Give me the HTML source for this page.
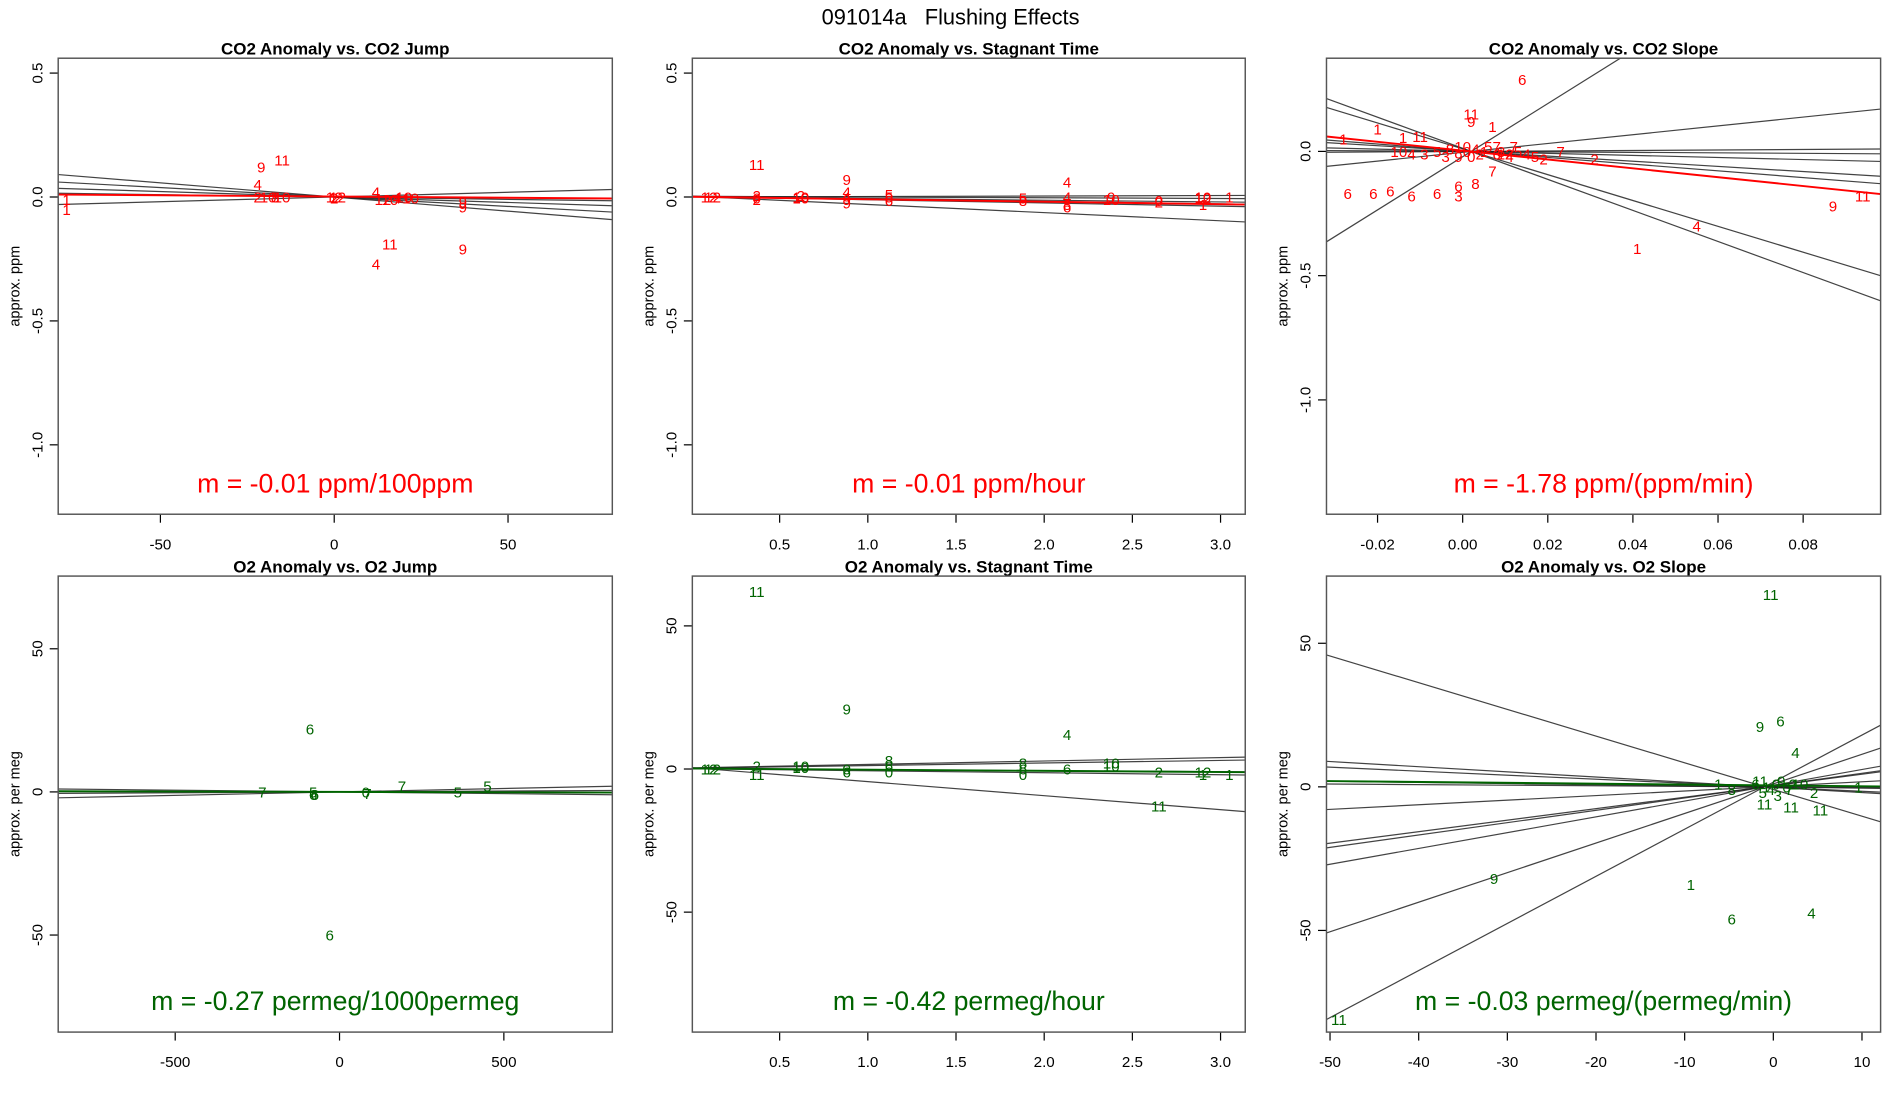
<!DOCTYPE html>
<html><head><meta charset="utf-8"><title>091014a Flushing Effects</title>
<style>
html,body{margin:0;padding:0;background:#fff;}
svg{display:block;font-family:"Liberation Sans",Arial,sans-serif;}
</style></head>
<body>
<svg id="fig" width="1900" height="1100" viewBox="0 0 1567 907" preserveAspectRatio="none" xmlns="http://www.w3.org/2000/svg">
<text x="784" y="20" text-anchor="middle" font-size="18" fill="#000" xml:space="preserve">091014a   Flushing Effects</text>
</svg>
<script>
// ---------- Panel 1: CO2 Anomaly vs CO2 Jump ----------
const p1X = [-77,-77,-21,-15,-22,-22,-19,-17,-15,0,0,1,12,14,16,18,20,22,37,37,16,12,37];
const p1Y = [-0.01,-0.05,0.12,0.15,0.05,0.0,0.0,0.0,0.0,0.0,-0.005,0.0,0.02,-0.01,-0.01,-0.005,0.0,-0.005,-0.02,-0.04,-0.19,-0.27,-0.21];
const p1L = ["1","1","9","11","4","2","10","8","10","12","2","12","4","12","10","4","10","10","9","9","11","4","9"];
const p1LineA = [0,0,0,0,0];
const p1LineB = [-0.00114,-0.00076,-0.00044,-0.00019,0.00038];
const p1FitA = 0.002;
const p1FitB = -0.0001;
const p1XTicks = [-50,0,50];
const p1XTickLabels = ["-50","0","50"];
const p1YTicks = [0.5,0,-0.5,-1.0];
const p1YTickLabels = ["0.5","0.0","-0.5","-1.0"];

// ---------- Panel 2: CO2 Anomaly vs Stagnant Time ----------
const p2X = [0.1,0.12,0.37,0.37,0.37,0.62,0.62,0.62,0.88,0.88,0.88,0.88,1.12,1.12,1.12,1.88,1.88,2.13,2.13,2.13,2.38,2.38,2.65,2.65,2.9,2.9,2.9,0.37,0.88,2.13,3.05];
const p2Y = [0,0,0.005,-0.005,-0.01,0.005,0,-0.005,0.02,0.0,-0.01,-0.025,0.01,0.0,-0.015,-0.005,-0.015,0.0,-0.03,-0.04,0.0,-0.01,-0.015,-0.02,0.0,-0.005,-0.03,0.13,0.07,0.06,0.0];
const p2L = ["12","12","2","0","2","2","10","10","4","4","9","9","5","5","6","5","8","4","8","6","9","10","0","2","10","12","1","11","9","4","1"];
const p2LineA = [0.0,0.003,0.001,0.002,0.002,0.003];
const p2LineB = [0.002,-0.003,-0.007,-0.01,-0.013,-0.033];
const p2FitA = 0.001;
const p2FitB = -0.01;
const p2XTicks = [0.5,1.0,1.5,2.0,2.5,3.0];
const p2XTickLabels = ["0.5","1.0","1.5","2.0","2.5","3.0"];
const p2YTicks = [0.5,0,-0.5,-1.0];
const p2YTickLabels = ["0.5","0.0","-0.5","-1.0"];

// ---------- Panel 3: CO2 Anomaly vs CO2 Slope ----------
const p3X = [0.014,0.002,0.002,0.007,-0.02,-0.014,-0.028,-0.01,-0.015,-0.012,-0.009,-0.006,-0.003,-0.001,0.001,0.003,0.004,0.005,0.006,0.008,0.009,0.011,0.013,0.008,0.012,0.023,0.031,0.019,0.017,0.015,0.007,0.003,-0.001,-0.001,-0.027,-0.021,-0.017,-0.012,-0.006,0.055,0.041,0.087,0.094,0.0,0.002,-0.004,0.01];
const p3Y = [0.29,0.15,0.12,0.10,0.09,0.055,0.05,0.06,0.0,-0.01,-0.01,0.0,0.01,-0.02,0.0,0.01,-0.01,0.0,0.02,-0.01,0.0,-0.02,0.0,0.02,0.02,0.0,-0.03,-0.03,-0.02,-0.01,-0.08,-0.13,-0.14,-0.18,-0.17,-0.17,-0.16,-0.18,-0.17,-0.30,-0.39,-0.22,-0.18,0.02,-0.02,-0.02,-0.01];
const p3L = ["6","11","9","1","1","1","1","11","10","4","3","5","8","9","0","4","2","1","5","6","8","4","5","7","7","7","2","2","5","4","7","8","6","3","6","6","6","6","6","4","1","9","11","10","0","3","12"];
const p3LineA = [-0.0214,-0.0035,-0.0002,0.0002,0.0008,0.0021,0.0027,0.0104,0.0125];
const p3LineB = [10.7,1.77,0.1,-0.1,-0.42,-1.04,-1.35,-5.2,-6.25];
const p3FitA = 0.003;
const p3FitB = -1.78;
const p3XTicks = [-0.02,0,0.02,0.04,0.06,0.08];
const p3XTickLabels = ["-0.02","0.00","0.02","0.04","0.06","0.08"];
const p3YTicks = [0,-0.5,-1.0];
const p3YTickLabels = ["0.0","-0.5","-1.0"];

// ---------- Panel 4: O2 Anomaly vs O2 Jump ----------
const p4X = [-235,-80,-80,80,190,360,450,-90,-30,-75,85];
const p4Y = [0,-1,0,0,2,0,2,22,-50,-1,-0.5];
const p4L = ["7","6","5","0","7","5","5","6","6","6","7"];
const p4LineA = [0,0,0];
const p4LineB = [-0.0012,0.0024,0.0006];
const p4FitA = 0;
const p4FitB = -0.00027;
const p4XTicks = [-500,0,500];
const p4XTickLabels = ["-500","0","500"];
const p4YTicks = [50,0,-50];
const p4YTickLabels = ["50","0","-50"];

// ---------- Panel 5: O2 Anomaly vs Stagnant Time ----------
const p5X = [0.1,0.12,0.37,0.37,0.62,0.62,0.88,0.88,1.12,1.12,1.12,1.88,1.88,1.88,2.13,2.38,2.38,2.65,2.9,2.9,0.37,0.88,2.13,2.65,3.05];
const p5Y = [0,0,1,-2,1,0.5,0,-1,3,1,-1,2,0,-2,0,2,1,-1,-1,-2,62,21,12,-13,-2];
const p5L = ["12","12","2","11","10","10","0","6","8","6","0","8","6","0","6","10","10","2","12","1","11","9","4","11","1"];
const p5LineA = [0.4,0.3,0.1,0.1,0.49];
const p5LineB = [1.2,0.9,-0.35,-0.7,-4.9];
const p5FitA = 0.2;
const p5FitB = -0.42;
const p5XTicks = [0.5,1.0,1.5,2.0,2.5,3.0];
const p5XTickLabels = ["0.5","1.0","1.5","2.0","2.5","3.0"];
const p5YTicks = [50,0,-50];
const p5YTickLabels = ["50","0","-50"];

// ---------- Panel 6: O2 Anomaly vs O2 Slope ----------
const p6X = [-0.3,-1.5,0.8,2.5,-9.3,-4.7,4.3,-31.5,-49,-6.2,-4.7,9.6,-1,2,5.3,4.6,-2,-1.5,-0.8,-0.3,0.3,0.9,1.5,2.2,3,-1.2,0.5,1.8];
const p6Y = [67,21,23,12,-34,-46,-44,-32,-81,1,-1,0,-6,-7,-8,-2,1,2,0,-1,1,2,0,1,1,-2,-3,-1];
const p6L = ["11","9","6","4","1","6","4","9","11","1","8","1","11","11","11","2","6","11","1","4","0","9","0","2","10","5","3","7"];
const p6LineA = [-0.93,-0.18,-0.14,-0.04,-0.02,0.16,0.40,0.43,0.55,1.03,1.64];
const p6LineB = [-0.93,-0.18,-0.14,-0.04,-0.02,0.16,0.40,0.43,0.55,1.03,1.64];
const p6FitA = 0.5;
const p6FitB = -0.03;
const p6XTicks = [-50,-40,-30,-20,-10,0,10];
const p6XTickLabels = ["-50","-40","-30","-20","-10","0","10"];
const p6YTicks = [50,0,-50];
const p6YTickLabels = ["50","0","-50"];

const NS = "http://www.w3.org/2000/svg";
const svg = document.getElementById("fig");
function mk(tag, attrs, parent){
  const e = document.createElementNS(NS, tag);
  for (const k in attrs) e.setAttribute(k, attrs[k]);
  (parent||svg).appendChild(e);
  return e;
}

function panel(cfg){
  const g = mk("g", {});
  
  
  const L=cfg.box[0], R=cfg.box[1], T=cfg.box[2], B=cfg.box[3];
  const sx = v => L + (v - cfg.xr[0]) / (cfg.xr[1]-cfg.xr[0]) * (R-L);
  const sy = v => T + (cfg.yr[1] - v) / (cfg.yr[1]-cfg.yr[0]) * (B-T);
  const cid = "clip-"+cfg.name;
  const cp = mk("clipPath", {id:cid}, g);
  mk("rect", {x:L, y:T, width:R-L, height:B-T}, cp);

  const title = mk("text", {x:(L+R)/2, y:T-3, "text-anchor":"middle", "font-size":"14", "font-weight":"bold", fill:"#000"}, g);
  title.textContent = cfg.title;
  
  

  const yt = mk("text", {transform:`translate(${L-32},${(T+B)/2}) rotate(-90)`, "text-anchor":"middle", "font-size":"12", fill:"#000"}, g);
  yt.textContent = cfg.ylab;
  
  

  const xa = mk("g", {}, g);
  
  
  cfg.xt.forEach((v,i)=>{
    const x = sx(v);
    mk("line", {x1:x, x2:x, y1:B, y2:B+7, stroke:"#000", "stroke-width":"1"}, xa);
    const t = mk("text", {x:x, y:B+29, "text-anchor":"middle", "font-size":"12.5", fill:"#000"}, xa);
    t.textContent = cfg.xtl[i];
    
    
  });
  const ya = mk("g", {}, g);
  
  
  cfg.yt.forEach((v,i)=>{
    const y = sy(v);
    mk("line", {x1:L-7, x2:L, y1:y, y2:y, stroke:"#000", "stroke-width":"1"}, ya);
    const t = mk("text", {transform:`translate(${L-13},${y}) rotate(-90)`, "text-anchor":"middle", "font-size":"12.5", fill:"#000"}, ya);
    t.textContent = cfg.ytl[i];
    
    
  });

  const pg = mk("g", {"clip-path":`url(#${cid})`}, g);
  cfg.la.forEach((a,i)=>{
    const b = cfg.lb[i];
    const x0 = cfg.xr[0], x1 = cfg.xr[1];
    const ln = mk("line", {x1:sx(x0), y1:sy(a+b*x0), x2:sx(x1), y2:sy(a+b*x1), stroke:"#222", "stroke-width":"1", "stroke-opacity":"0.85"}, pg);
    
    
  });
  cfg.px.forEach((x,i)=>{
    const t = mk("text", {x:sx(x), y:sy(cfg.py[i])+4.5, "text-anchor":"middle", "font-size":"12.5", fill:cfg.color}, pg);
    t.textContent = cfg.pl[i];
    
    
  });
  {
    const x0 = cfg.xr[0], x1 = cfg.xr[1];
    const ln = mk("line", {x1:sx(x0), y1:sy(cfg.fa+cfg.fb*x0), x2:sx(x1), y2:sy(cfg.fa+cfg.fb*x1), stroke:cfg.color, "stroke-width":"1.6"}, pg);
    
    
  }
  const m = mk("text", {x:(L+R)/2, y:B-18, "text-anchor":"middle", "font-size":"22", fill:cfg.color}, g);
  m.textContent = cfg.mtext;
  
  

  const box = mk("rect", {x:L, y:T, width:R-L, height:B-T, fill:"none", stroke:"#555", "stroke-width":"1.2"}, g);
  
  
}

const RED="#ff0000", GREEN="#006400";
panel({name:"panel-co2-jump", title:"CO2 Anomaly vs. CO2 Jump", ylab:"approx. ppm", box:[48,505,48,424], xr:[-79.4,80], yr:[-1.28,0.56],
  px:p1X, py:p1Y, pl:p1L, la:p1LineA, lb:p1LineB, fa:p1FitA, fb:p1FitB, xt:p1XTicks, xtl:p1XTickLabels, yt:p1YTicks, ytl:p1YTickLabels, color:RED, mtext:"m = -0.01 ppm/100ppm"});
panel({name:"panel-co2-stagnant", title:"CO2 Anomaly vs. Stagnant Time", ylab:"approx. ppm", box:[571,1027,48,424], xr:[0.005,3.14], yr:[-1.28,0.56],
  px:p2X, py:p2Y, pl:p2L, la:p2LineA, lb:p2LineB, fa:p2FitA, fb:p2FitB, xt:p2XTicks, xtl:p2XTickLabels, yt:p2YTicks, ytl:p2YTickLabels, color:RED, mtext:"m = -0.01 ppm/hour"});
panel({name:"panel-co2-slope", title:"CO2 Anomaly vs. CO2 Slope", ylab:"approx. ppm", box:[1094,1551,48,424], xr:[-0.032,0.0982], yr:[-1.46,0.375],
  px:p3X, py:p3Y, pl:p3L, la:p3LineA, lb:p3LineB, fa:p3FitA, fb:p3FitB, xt:p3XTicks, xtl:p3XTickLabels, yt:p3YTicks, ytl:p3YTickLabels, color:RED, mtext:"m = -1.78 ppm/(ppm/min)"});
panel({name:"panel-o2-jump", title:"O2 Anomaly vs. O2 Jump", ylab:"approx. per meg", box:[48,505,475,851], xr:[-856,830], yr:[-83.9,75.4],
  px:p4X, py:p4Y, pl:p4L, la:p4LineA, lb:p4LineB, fa:p4FitA, fb:p4FitB, xt:p4XTicks, xtl:p4XTickLabels, yt:p4YTicks, ytl:p4YTickLabels, color:GREEN, mtext:"m = -0.27 permeg/1000permeg"});
panel({name:"panel-o2-stagnant", title:"O2 Anomaly vs. Stagnant Time", ylab:"approx. per meg", box:[571,1027,475,851], xr:[0.005,3.14], yr:[-91.9,67.4],
  px:p5X, py:p5Y, pl:p5L, la:p5LineA, lb:p5LineB, fa:p5FitA, fb:p5FitB, xt:p5XTicks, xtl:p5XTickLabels, yt:p5YTicks, ytl:p5YTickLabels, color:GREEN, mtext:"m = -0.42 permeg/hour"});
panel({name:"panel-o2-slope", title:"O2 Anomaly vs. O2 Slope", ylab:"approx. per meg", box:[1094,1551,475,851], xr:[-50.4,12.1], yr:[-85.4,73.4],
  px:p6X, py:p6Y, pl:p6L, la:p6LineA, lb:p6LineB, fa:p6FitA, fb:p6FitB, xt:p6XTicks, xtl:p6XTickLabels, yt:p6YTicks, ytl:p6YTickLabels, color:GREEN, mtext:"m = -0.03 permeg/(permeg/min)"});
</script>
</body></html>
